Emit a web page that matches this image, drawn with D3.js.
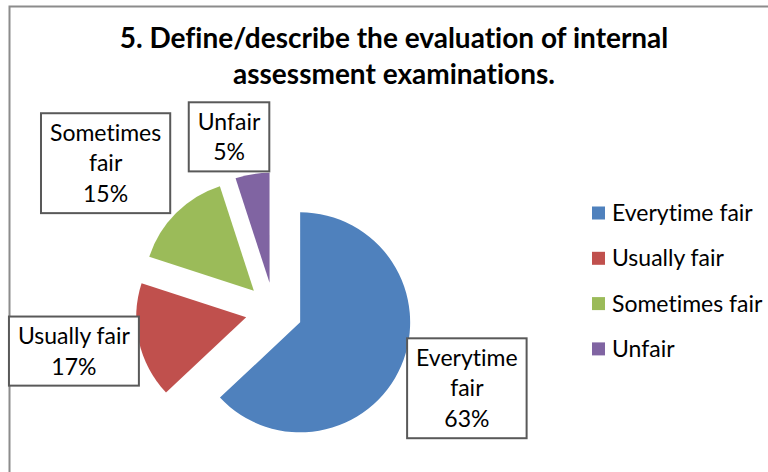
<!DOCTYPE html>
<html>
<head>
<meta charset="utf-8">
<script src="https://cdn.jsdelivr.net/npm/d3@7"></script>
<style>
  html, body { margin: 0; padding: 0; background: #fff; }
  svg { display: block; font-family: Lato, "Open Sans", sans-serif; font-variant-ligatures: none; }
</style>
</head>
<body>
<div id="chart"></div>
<script>
// data
const categories = ["Everytime fair", "Usually fair", "Sometimes fair", "Unfair"];
const values = [63, 17, 15, 5];
const colors = ["#4F81BD", "#C0504D", "#9BBB59", "#8064A2"];
const titleLines = ["5. Define/describe the evaluation of internal", "assessment examinations."];

// layout
const width = 768, height = 472;
const center = { x: 274, y: 311 };
const radius = 110;
const explode = 28.5;
// label anchor tweaks (degrees off the slice bisector, distance from slice vertex)
const labelShift = [-1, -1, -3, -8];
const labelDist = [121, 112, 138, 117];
const labelFont = 23, lineH = 30.8, padX = 9, maxLabelW = 125;

const svg = d3.select("#chart").append("svg")
    .attr("width", width)
    .attr("height", height);

// chart area border (only left and top are inside the frame)
svg.append("rect")
    .attr("x", 9.5).attr("y", 6.5)
    .attr("width", 800).attr("height", 500)
    .attr("fill", "#fff")
    .attr("stroke", "#8c8c8c")
    .attr("stroke-width", 2);

// title
svg.append("text")
    .attr("text-anchor", "middle")
    .attr("font-weight", "bold")
    .attr("font-size", 28)
    .attr("fill", "#000")
    .selectAll("tspan")
    .data(titleLines)
    .join("tspan")
    .attr("x", 394)
    .attr("y", (d, i) => 48 + i * 35.5)
    .text(d => d);

const pie = d3.pie().sort(null).value(d => d);
const arcs = pie(values);
const arc = d3.arc().innerRadius(0).outerRadius(radius);

const mid = d => (d.startAngle + d.endAngle) / 2;
const vertex = d => ({
    x: center.x + Math.sin(mid(d)) * explode,
    y: center.y - Math.cos(mid(d)) * explode
});

const pieG = svg.append("g");

pieG.selectAll("path")
    .data(arcs)
    .join("path")
    .attr("transform", d => {
        const v = vertex(d);
        return `translate(${v.x},${v.y})`;
    })
    .attr("d", arc)
    .attr("fill", (d, i) => colors[i]);

// data labels in boxes
const labelG = svg.append("g")
    .attr("font-size", labelFont)
    .attr("fill", "#000");

arcs.forEach((d, i) => {
    const g = labelG.append("g");
    const txt = g.append("text").attr("text-anchor", "middle");

    // word wrap the category name like Excel does
    const words = categories[i].split(" ");
    let lines = [];
    let cur = "";
    const probe = g.append("text").attr("visibility", "hidden");
    words.forEach(w => {
        const test = cur ? cur + " " + w : w;
        probe.text(test);
        if (cur && probe.node().getComputedTextLength() > maxLabelW) {
            lines.push(cur);
            cur = w;
        } else {
            cur = test;
        }
    });
    lines.push(cur);
    lines.push(d3.format(".0%")(d.value / d3.sum(values)));

    let maxW = 0;
    lines.forEach(l => {
        probe.text(l);
        maxW = Math.max(maxW, probe.node().getComputedTextLength());
    });
    probe.remove();

    const w = maxW + padX * 2;
    const h = lines.length * lineH + 7.5;

    const theta = mid(d);
    const a = theta + labelShift[i] * Math.PI / 180;
    const v = vertex(d);
    const ax = v.x + Math.sin(a) * labelDist[i];
    const ay = v.y - Math.cos(a) * labelDist[i];
    const left = ax - w * (1 - Math.sin(theta)) / 2;
    const top = ay - h * (1 + Math.cos(theta)) / 2;

    g.insert("rect", "text")
        .attr("x", left).attr("y", top)
        .attr("width", w).attr("height", h)
        .attr("fill", "#fff")
        .attr("stroke", "#595959")
        .attr("stroke-width", 2);

    txt.selectAll("tspan")
        .data(lines)
        .join("tspan")
        .attr("x", left + w / 2)
        .attr("y", (l, j) => top + 27.3 + j * lineH)
        .text(l => l);
});

// legend
const legend = svg.append("g")
    .attr("transform", "translate(592,213)")
    .attr("font-size", labelFont);

const rows = legend.selectAll("g")
    .data(categories)
    .join("g")
    .attr("transform", (d, i) => `translate(0,${i * 45.3})`);

rows.append("rect")
    .attr("x", 0).attr("y", -6.5)
    .attr("width", 13).attr("height", 13)
    .attr("fill", (d, i) => colors[i]);

rows.append("text")
    .attr("x", 20)
    .attr("y", 8)
    .attr("fill", "#000")
    .text(d => d);
</script>
</body>
</html>
